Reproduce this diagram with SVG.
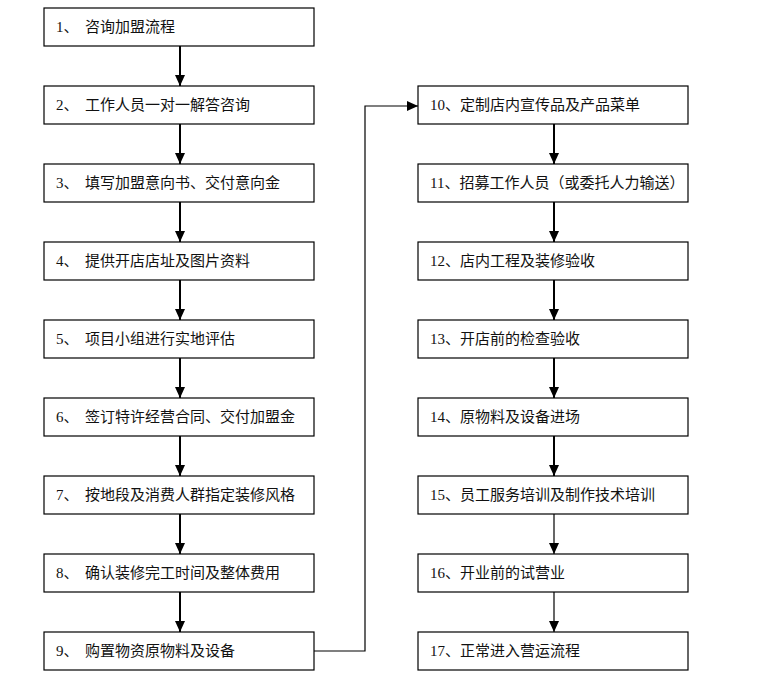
<svg xmlns="http://www.w3.org/2000/svg" width="758" height="676" viewBox="0 0 758 676">
<style>
.box{fill:#fff;stroke:#000;stroke-width:1.2}
.t{font-family:"Liberation Serif","Noto Sans CJK SC",serif;font-size:15px;fill:#111}
.c{stroke:#000;stroke-width:2;fill:none}
.c1{stroke:#000;stroke-width:1.2;fill:none}
</style>
<defs>
<marker id="ah" markerUnits="userSpaceOnUse" markerWidth="12" markerHeight="12" viewBox="0 0 12 12" refX="11" refY="6" orient="auto">
<path d="M0,1 L11,6 L0,11 Z" fill="#000"/>
</marker>
</defs>
<rect width="758" height="676" fill="#fff"/>
<g id="connectors">
<path class="c" d="M180,46 V86" marker-end="url(#ah)"/>
<path class="c" d="M180,124 V164" marker-end="url(#ah)"/>
<path class="c" d="M180,202 V242" marker-end="url(#ah)"/>
<path class="c" d="M180,280 V320" marker-end="url(#ah)"/>
<path class="c" d="M180,358 V398" marker-end="url(#ah)"/>
<path class="c" d="M180,436 V476" marker-end="url(#ah)"/>
<path class="c" d="M180,514 V554" marker-end="url(#ah)"/>
<path class="c" d="M180,592 V632" marker-end="url(#ah)"/>
<path class="c1" d="M314,651 H365 V106 H418" marker-end="url(#ah)"/>
<path class="c" d="M554,124 V164" marker-end="url(#ah)"/>
<path class="c" d="M554,202 V242" marker-end="url(#ah)"/>
<path class="c" d="M554,280 V320" marker-end="url(#ah)"/>
<path class="c" d="M554,358 V398" marker-end="url(#ah)"/>
<path class="c" d="M554,436 V476" marker-end="url(#ah)"/>
<path class="c1" d="M554,514 V554" marker-end="url(#ah)"/>
<path class="c1" d="M554,592 V632" marker-end="url(#ah)"/>
</g>
<g id="n1"><rect class="box" x="44" y="8" width="270" height="38"/><text class="t" y="32"><tspan x="56">1、</tspan><tspan x="85">咨询加盟流程</tspan></text></g>
<g id="n2"><rect class="box" x="44" y="86" width="270" height="38"/><text class="t" y="110"><tspan x="56">2、</tspan><tspan x="85">工作人员一对一解答咨询</tspan></text></g>
<g id="n3"><rect class="box" x="44" y="164" width="270" height="38"/><text class="t" y="188"><tspan x="56">3、</tspan><tspan x="85">填写加盟意向书、交付意向金</tspan></text></g>
<g id="n4"><rect class="box" x="44" y="242" width="270" height="38"/><text class="t" y="266"><tspan x="56">4、</tspan><tspan x="85">提供开店店址及图片资料</tspan></text></g>
<g id="n5"><rect class="box" x="44" y="320" width="270" height="38"/><text class="t" y="344"><tspan x="56">5、</tspan><tspan x="85">项目小组进行实地评估</tspan></text></g>
<g id="n6"><rect class="box" x="44" y="398" width="270" height="38"/><text class="t" y="422"><tspan x="56">6、</tspan><tspan x="85">签订特许经营合同、交付加盟金</tspan></text></g>
<g id="n7"><rect class="box" x="44" y="476" width="270" height="38"/><text class="t" y="500"><tspan x="56">7、</tspan><tspan x="85">按地段及消费人群指定装修风格</tspan></text></g>
<g id="n8"><rect class="box" x="44" y="554" width="270" height="38"/><text class="t" y="578"><tspan x="56">8、</tspan><tspan x="85">确认装修完工时间及整体费用</tspan></text></g>
<g id="n9"><rect class="box" x="44" y="632" width="270" height="38"/><text class="t" y="656"><tspan x="56">9、</tspan><tspan x="85">购置物资原物料及设备</tspan></text></g>
<g id="n10"><rect class="box" x="418" y="86" width="270" height="38"/><text class="t" x="430" y="110">10、定制店内宣传品及产品菜单</text></g>
<g id="n11"><rect class="box" x="418" y="164" width="270" height="38"/><text class="t" x="430" y="188">11、招募工作人员（或委托人力输送）</text></g>
<g id="n12"><rect class="box" x="418" y="242" width="270" height="38"/><text class="t" x="430" y="266">12、店内工程及装修验收</text></g>
<g id="n13"><rect class="box" x="418" y="320" width="270" height="38"/><text class="t" x="430" y="344">13、开店前的检查验收</text></g>
<g id="n14"><rect class="box" x="418" y="398" width="270" height="38"/><text class="t" x="430" y="422">14、原物料及设备进场</text></g>
<g id="n15"><rect class="box" x="418" y="476" width="270" height="38"/><text class="t" x="430" y="500">15、员工服务培训及制作技术培训</text></g>
<g id="n16"><rect class="box" x="418" y="554" width="270" height="38"/><text class="t" x="430" y="578">16、开业前的试营业</text></g>
<g id="n17"><rect class="box" x="418" y="632" width="270" height="38"/><text class="t" x="430" y="656">17、正常进入营运流程</text></g>
</svg>
